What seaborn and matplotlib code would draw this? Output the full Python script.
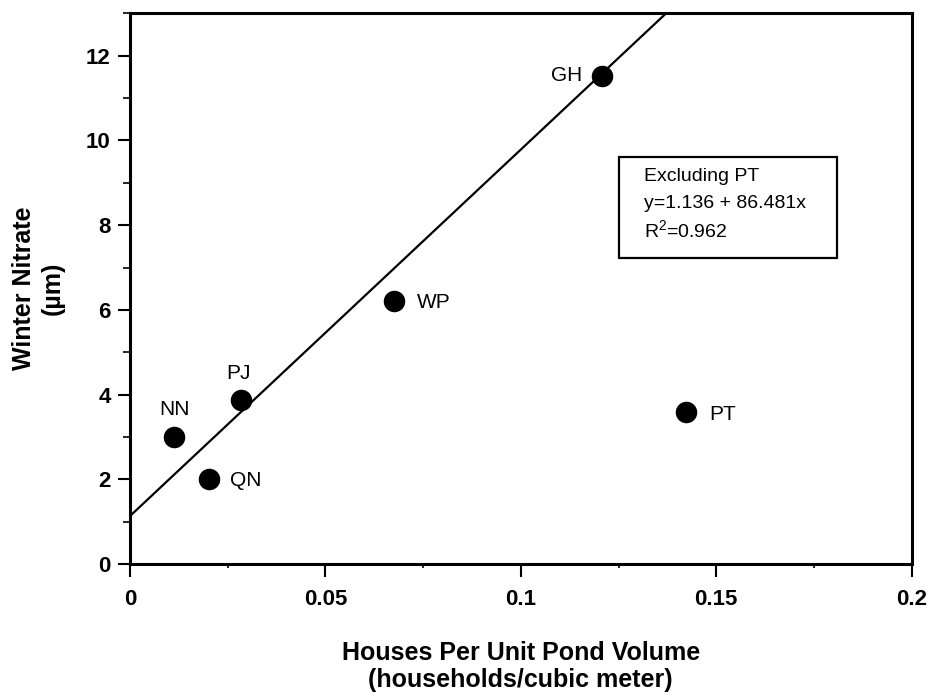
import matplotlib
matplotlib.use('Agg')
import matplotlib.pyplot as plt
import seaborn as sns
import pandas as pd
from matplotlib.patches import Rectangle
from matplotlib.ticker import MultipleLocator

# ponds: houses per unit volume vs winter nitrate
ponds = ['NN', 'QN', 'PJ', 'WP', 'GH', 'PT']
houses = [0.0113, 0.0202, 0.0284, 0.0675, 0.1207, 0.1422]
nitrate = [3.0, 2.0, 3.88, 6.22, 11.53, 3.6]

# fit excluding PT
intercept = 1.136
slope = 86.481
r2 = 0.962

df = pd.DataFrame({'pond': ponds, 'houses': houses, 'nitrate': nitrate})

sns.set_style('white')
plt.rcParams['font.family'] = ['Liberation Sans', 'DejaVu Sans']
plt.rcParams['text.color'] = 'black'
plt.rcParams['axes.labelcolor'] = 'black'
plt.rcParams['xtick.color'] = 'black'
plt.rcParams['ytick.color'] = 'black'
plt.rcParams['mathtext.fontset'] = 'custom'
plt.rcParams['mathtext.rm'] = 'Liberation Sans'
plt.rcParams['mathtext.default'] = 'regular'

fig = plt.figure(figsize=(9.35, 7), dpi=100)
ax = fig.add_axes([0.139, 0.194, 0.836, 0.787])

sns.scatterplot(data=df, x='houses', y='nitrate', color='black', s=240,
                edgecolor='black', linewidth=0, zorder=3, ax=ax)
ax.axline((0, intercept), slope=slope, color='black', lw=1.6, zorder=2)

# point labels (offsets in points)
offsets = {'NN': (0, 20, 'center'), 'PJ': (-2, 19, 'center'),
           'QN': (15, -1, 'left'), 'WP': (17, -1, 'left'),
           'GH': (-14, 0, 'right'), 'PT': (17, -2, 'left')}
for p, x, y in zip(ponds, houses, nitrate):
    dx, dy, ha = offsets[p]
    ax.annotate(p, (x, y), xytext=(dx, dy), textcoords='offset points',
                ha=ha, va='center', fontsize=15)

# equation box
ax.add_patch(Rectangle((0.625, 0.555), 0.28, 0.184, transform=ax.transAxes,
                       fill=False, edgecolor='black', lw=1.6, zorder=4))
ax.text(0.658, 0.703, 'Excluding PT', transform=ax.transAxes, fontsize=14, va='center')
ax.text(0.658, 0.654, f'y={intercept} + {slope}x', transform=ax.transAxes,
        fontsize=14, va='center')
ax.text(0.658, 0.606, f'R$^{{2}}$={r2}', transform=ax.transAxes, fontsize=14, va='center')

ax.set_xlim(0, 0.2)
ax.set_ylim(0, 13)
ax.xaxis.set_minor_locator(MultipleLocator(0.025))
ax.yaxis.set_major_locator(MultipleLocator(2))
ax.yaxis.set_minor_locator(MultipleLocator(1))
ax.set_xticks([0, 0.05, 0.1, 0.15, 0.2])
ax.set_xticklabels(['0', '0.05', '0.1', '0.15', '0.2'])

ax.tick_params(which='major', direction='out', length=9, width=1.5,
               labelsize=16, bottom=True, left=True)
ax.tick_params(axis='x', which='major', pad=9)
ax.tick_params(axis='y', which='major', pad=5)
ax.tick_params(axis='y', which='minor', direction='out', length=5, width=1.2, left=True)
ax.tick_params(axis='x', which='minor', direction='out', length=3, width=1.2, bottom=True)
for lab in ax.get_xticklabels() + ax.get_yticklabels():
    lab.set_fontweight('bold')

for s in ax.spines.values():
    s.set_visible(True)
    s.set_color('black')
    s.set_linewidth(2.2)

ax.set_xlabel('Houses Per Unit Pond Volume\n(households/cubic meter)',
              fontsize=18, fontweight='bold', labelpad=22, linespacing=1.15)
ax.set_ylabel('Winter Nitrate\n(µm)', fontsize=18, fontweight='bold',
              labelpad=15, linespacing=1.25)

fig.savefig('out.png', dpi=100)
